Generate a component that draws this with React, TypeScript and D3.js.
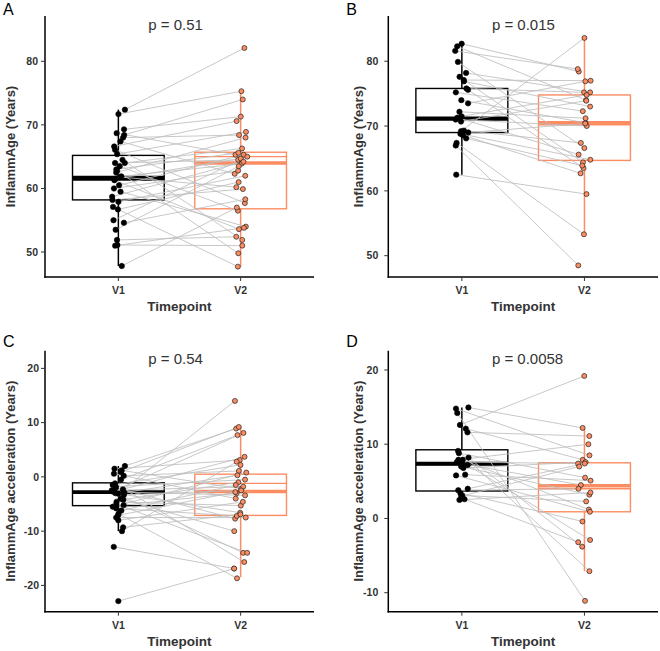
import React from "react";
import * as d3 from "d3";

const TIMEPOINTS = ["V1", "V2"];
const V2_COLOR = "#FC8D62";

// ---- Panel A : InflammAge (paired by index) ----
const A_V1 = [72.4, 71.7, 69.3, 68.7, 68.4, 68.0, 67.4, 66.6, 66.1, 65.4, 64.5, 64.0, 64.0, 63.5, 63.0, 62.8, 62.5, 61.9, 61.8, 61.5, 61.3, 60.5, 60.0, 59.5, 58.7, 58.2, 57.9, 57.1, 56.7, 55.0, 54.6, 53.5, 51.9, 51.1, 51.0, 47.8];
const A_V2 = [82.1, 75.3, 71.3, 65.3, 74.0, 68.4, 62.3, 70.6, 57.7, 68.9, 51.9, 64.5, 66.3, 56.5, 65.6, 49.8, 68.0, 63.9, 60.2, 64.7, 53.6, 65.3, 62.8, 54.0, 64.2, 59.9, 62.0, 47.7, 61.0, 65.0, 58.3, 63.5, 52.4, 51.0, 53.8, 57.0];
// [whisker low, Q1, median, Q3, whisker high, secondary line]
const A_BOX_V1 = [47.8, 58.2, 61.5, 65.2, 72.4, 61.9];
const A_BOX_V2 = [47.7, 56.8, 64.0, 65.7, 75.3, 65.0];
const A_TICKS = [50, 60, 70, 80];

// ---- Panel B : InflammAge ----
const B_V1 = [82.7, 82.3, 81.6, 79.9, 78.2, 77.6, 77.1, 76.9, 75.8, 75.6, 75.2, 74.0, 73.5, 72.2, 71.5, 71.3, 71.0, 70.7, 69.3, 69.2, 69.0, 68.8, 68.6, 68.1, 67.4, 67.0, 62.5];
const B_V2 = [78.4, 74.0, 78.8, 66.6, 75.2, 64.4, 77.0, 73.0, 75.2, 63.5, 72.3, 70.5, 76.9, 71.2, 74.8, 65.6, 70.0, 73.9, 67.4, 83.6, 70.4, 64.8, 62.7, 63.9, 53.3, 48.5, 59.5];
const B_BOX_V1 = [62.5, 69.0, 71.2, 75.8, 82.7, 70.9];
const B_BOX_V2 = [53.3, 64.7, 70.5, 74.8, 83.6, 70.2];
const B_TICKS = [50, 60, 70, 80];

// ---- Panel C : InflammAge acceleration ----
const C_V1 = [2.0, 1.5, 1.2, 0.9, 0.6, 0.2, -0.5, -1.2, -1.5, -1.8, -2.0, -2.3, -2.5, -2.6, -2.7, -2.8, -2.9, -3.0, -3.1, -3.3, -4.0, -4.2, -4.6, -5.0, -5.2, -5.5, -5.8, -6.2, -6.8, -7.1, -7.5, -8.0, -9.3, -10.0, -12.9, -22.9];
const C_V2 = [8.9, 3.1, -2.2, 9.2, -4.0, 1.1, 7.7, -15.7, 2.2, -0.5, -7.7, 3.7, -1.8, 8.1, -14.0, -3.4, 0.3, -6.6, 14.0, -2.5, -10.0, -1.0, -5.3, -14.0, -3.0, 0.8, -7.2, -1.5, -18.7, -2.8, -7.5, -4.6, -6.9, 2.8, -16.9, -16.9];
const C_BOX_V1 = [-10.0, -5.3, -2.8, -1.1, 2.0, -3.0];
const C_BOX_V2 = [-18.5, -7.1, -2.7, 0.5, 9.2, -1.2];
const C_TICKS = [-20, -10, 0, 10, 20];

// ---- Panel D : InflammAge acceleration ----
const D_V1 = [14.95, 14.8, 14.2, 12.6, 12.1, 11.6, 9.1, 8.8, 8.2, 7.9, 7.9, 7.6, 7.4, 7.2, 7.0, 6.8, 5.9, 5.8, 4.0, 3.8, 3.4, 3.1, 3.0, 2.6, 2.5];
const D_V2 = [12.2, 8.5, -11.1, 19.2, 7.9, 11.1, -7.1, 5.5, -3.8, 10.0, 1.2, 7.4, 4.5, -2.9, 3.2, 7.6, 5.1, 0.9, 7.4, 4.0, -0.4, 2.3, 7.0, -3.2, 3.5];
const D_BOX_V1 = [2.5, 3.7, 7.4, 9.25, 14.95, 7.2];
const D_BOX_V2 = [-7.1, 0.9, 4.4, 7.5, 12.2, 4.0];
const D_TICKS = [-10, 0, 10, 20];

const P_LABELS = ["p = 0.51", "p = 0.015", "p = 0.54", "p = 0.0058"];
const LETTERS = ["A", "B", "C", "D"];
const Y_TITLES = ["InflammAge (Years)", "InflammAge (Years)", "InflammAge acceleration (Years)", "InflammAge acceleration (Years)"];

const FONT = "'Liberation Sans', Arial, Helvetica, sans-serif";

type PanelCfg = {
  letter: string;
  v1: number[];
  v2: number[];
  box1: number[];
  box2: number[];
  ticks: number[];
  yTitle: string;
  p: string;
  domain: [number, number];
  left: number;
  right: number;
  top: number;
  bottom: number;
  tickGap: number;
  titleGap: number;
  letterY: number;
  seed: number;
};

const panels: PanelCfg[] = [
  { letter: LETTERS[0], v1: A_V1, v2: A_V2, box1: A_BOX_V1, box2: A_BOX_V2, ticks: A_TICKS, yTitle: Y_TITLES[0], p: P_LABELS[0], domain: [46.07, 87.13], left: 45, right: 314, top: 16, bottom: 277, tickGap: 7, titleGap: 35, letterY: 15, seed: 0.11 },
  { letter: LETTERS[1], v1: B_V1, v2: B_V2, box1: B_BOX_V1, box2: B_BOX_V2, ticks: B_TICKS, yTitle: Y_TITLES[1], p: P_LABELS[1], domain: [46.71, 86.98], left: 388.3, right: 658, top: 16, bottom: 277, tickGap: 10, titleGap: 30, letterY: 15, seed: 0.37 },
  { letter: LETTERS[2], v1: C_V1, v2: C_V2, box1: C_BOX_V1, box2: C_BOX_V2, ticks: C_TICKS, yTitle: Y_TITLES[2], p: P_LABELS[2], domain: [-24.85, 23.26], left: 45, right: 314, top: 350.7, bottom: 611.7, tickGap: 6, titleGap: 35, letterY: 347, seed: 0.59 },
  { letter: LETTERS[3], v1: D_V1, v2: D_V2, box1: D_BOX_V1, box2: D_BOX_V2, ticks: D_TICKS, yTitle: Y_TITLES[3], p: P_LABELS[3], domain: [-12.56, 22.6], left: 388.3, right: 658, top: 350.7, bottom: 611.7, tickGap: 10, titleGap: 30, letterY: 347, seed: 0.83 },
];

function Box({ stats, xc, halfW, y, color }: { stats: number[]; xc: number; halfW: number; y: d3.ScaleLinear<number, number>; color: string }) {
  const [lo, q1, med, q3, hi, alt] = stats;
  return (
    <g>
      <line x1={xc} x2={xc} y1={y(q3)} y2={y(hi)} stroke={color} strokeWidth={1.5} />
      <line x1={xc} x2={xc} y1={y(q1)} y2={y(lo)} stroke={color} strokeWidth={1.5} />
      <rect x={xc - halfW} y={y(q3)} width={2 * halfW} height={y(q1) - y(q3)} fill="none" stroke={color} strokeWidth={1.4} />
      <line x1={xc - halfW} x2={xc + halfW} y1={y(alt)} y2={y(alt)} stroke={color} strokeWidth={1.3} />
      <line x1={xc - halfW} x2={xc + halfW} y1={y(med)} y2={y(med)} stroke={color} strokeWidth={3.6} />
    </g>
  );
}

function Panel({ cfg }: { cfg: PanelCfg }) {
  const x = d3.scaleLinear().domain([0.4, 2.6]).range([cfg.left, cfg.right]);
  const y = d3.scaleLinear().domain(cfg.domain).range([cfg.bottom, cfg.top]);
  const rng = d3.randomLcg(cfg.seed);
  const jit = () => (rng() - 0.5) * 0.11;
  const pairs = cfg.v1.map((a, i) => ({ a, b: cfg.v2[i], xa: 1 + jit(), xb: 2 + jit() }));
  const halfW = x(1.375) - x(1);
  const lineGen = d3.line<[number, number]>().x((d) => x(d[0])).y((d) => y(d[1]));

  return (
    <g fontFamily={FONT}>
      <text x={cfg.left - 42} y={cfg.letterY} fontSize={16} fill="#000">{cfg.letter}</text>
      <Box stats={cfg.box1} xc={x(1)} halfW={halfW} y={y} color="#000" />
      <Box stats={cfg.box2} xc={x(2)} halfW={halfW} y={y} color={V2_COLOR} />
      {pairs.map((p, i) => (
        <path key={"l" + i} d={lineGen([[p.xa, p.a], [p.xb, p.b]]) || ""} stroke="#BEBEBE" strokeWidth={0.85} fill="none" />
      ))}
      {pairs.map((p, i) => (
        <circle key={"a" + i} cx={x(p.xa)} cy={y(p.a)} r={2.7} fill="#000" stroke="#000" strokeWidth={0.6} />
      ))}
      {pairs.map((p, i) => (
        <circle key={"b" + i} cx={x(p.xb)} cy={y(p.b)} r={2.5} fill={V2_COLOR} stroke="#222" strokeWidth={0.7} />
      ))}
      {/* axes */}
      <line x1={cfg.left} x2={cfg.left} y1={cfg.top} y2={cfg.bottom + 0.75} stroke="#000" strokeWidth={1.5} />
      <line x1={cfg.left - 0.75} x2={cfg.right} y1={cfg.bottom} y2={cfg.bottom} stroke="#000" strokeWidth={1.5} />
      {cfg.ticks.map((t) => (
        <g key={"t" + t}>
          <line x1={cfg.left - 4} x2={cfg.left} y1={y(t)} y2={y(t)} stroke="#333" strokeWidth={1} />
          <text x={cfg.left - cfg.tickGap} y={y(t)} dy="0.35em" textAnchor="end" fontSize={10.5} fontWeight="bold" fill="#333">{t}</text>
        </g>
      ))}
      {TIMEPOINTS.map((tp, i) => (
        <g key={tp}>
          <line x1={x(i + 1)} x2={x(i + 1)} y1={cfg.bottom} y2={cfg.bottom + 4} stroke="#333" strokeWidth={1} />
          <text x={x(i + 1)} y={cfg.bottom + 17} textAnchor="middle" fontSize={10.5} fontWeight="bold" fill="#333">{tp}</text>
        </g>
      ))}
      <text x={(cfg.left + cfg.right) / 2} y={cfg.bottom + 34} textAnchor="middle" fontSize={13.5} fontWeight="bold" fill="#333">Timepoint</text>
      <text transform={`translate(${cfg.left - cfg.titleGap},${(cfg.top + cfg.bottom) / 2}) rotate(-90)`} dy="0.35em" textAnchor="middle" fontSize={13} fontWeight="bold" fill="#333">{cfg.yTitle}</text>
      <text x={x(1.245)} y={cfg.top + 13.5} fontSize={15} fill="#333">{cfg.p}</text>
    </g>
  );
}

export default function App() {
  return (
    <svg width={660} height={651} style={{ position: "absolute", left: 0, top: 0, display: "block", background: "#fff" }}>
      <rect width={660} height={651} fill="#fff" />
      {panels.map((p) => (
        <Panel key={p.letter} cfg={p} />
      ))}
    </svg>
  );
}
